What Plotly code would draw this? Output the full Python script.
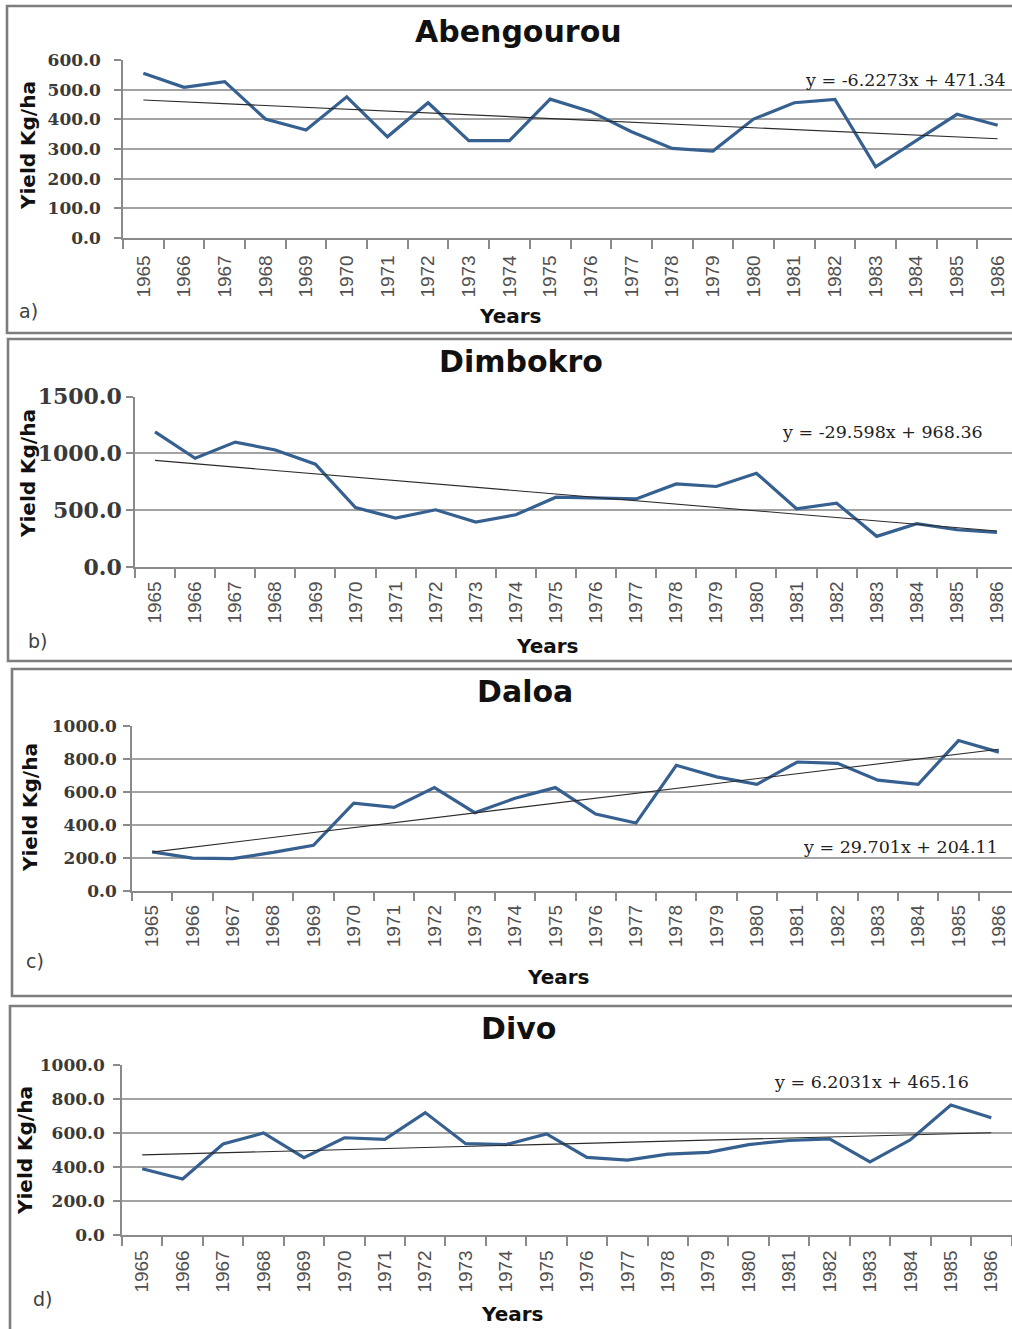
import plotly.graph_objects as go

# Figure size in pixels
W, H = 1012, 1329

years = ["1965", "1966", "1967", "1968", "1969", "1970", "1971", "1972", "1973", "1974", "1975",
         "1976", "1977", "1978", "1979", "1980", "1981", "1982", "1983", "1984", "1985", "1986"]

# Yields (Kg/ha) per station
abengourou = [555, 508, 527, 401, 364, 476, 341, 456, 328, 328, 468,
              426, 358, 302, 293, 401, 456, 467, 240, 328, 417, 380]
dimbokro = [1190, 958, 1100, 1031, 905, 524, 431, 504, 396, 460, 615,
            604, 600, 732, 709, 826, 513, 563, 270, 381, 328, 305]
daloa = [235, 197, 195, 232, 275, 530, 505, 625, 473, 560, 625,
         465, 410, 760, 690, 645, 780, 772, 670, 645, 910, 840]
divo = [390, 329, 535, 600, 455, 572, 563, 720, 537, 532, 595,
        457, 440, 476, 486, 532, 556, 566, 430, 560, 765, 690]

# Linear trend coefficients (y = slope * x + intercept, x = 1..22)
trend_slope = [-6.2273, -29.598, 29.701, 6.2031]
trend_intercept = [471.34, 968.36, 204.11, 465.16]

titles = ["Abengourou", "Dimbokro", "Daloa", "Divo"]
panel_tags = ["a)", "b)", "c)", "d)"]
equations = ["y = -6.2273x + 471.34", "y = -29.598x + 968.36",
             "y = 29.701x + 204.11", "y = 6.2031x + 465.16"]
y_max = [600, 1500, 1000, 1000]
y_step = [100, 500, 200, 200]

series = [abengourou, dimbokro, daloa, divo]

# Layout geometry of each panel (pixels from top-left)
panels = [
    dict(xl=123, xr=1018, yt=60, yb=238, box=(7, 6, 1016, 333), ytick=17, ystand=10, xstand=8,
         title=(518, 32), ytitle=(28, 146), years=(510, 316), tag=(28, 311), eq=(1008, 80)),
    dict(xl=135, xr=1017, yt=396.7, yb=567, box=(8, 339, 1016, 661), ytick=22, ystand=0, xstand=5,
         title=(521, 362), ytitle=(28, 474), years=(547, 646), tag=(37, 641), eq=(985, 432)),
    dict(xl=132, xr=1019, yt=725.7, yb=890.7, box=(12, 669, 1016, 996), ytick=17, ystand=3, xstand=5,
         title=(525, 691), ytitle=(30, 808), years=(558, 977), tag=(35, 961), eq=(1000, 847)),
    dict(xl=122, xr=1011.5, yt=1065, yb=1235, box=(10, 1006, 1016, 1334), ytick=17, ystand=5, xstand=6,
         title=(518, 1028), ytitle=(25, 1151), years=(512, 1314), tag=(42, 1299), eq=(971, 1082)),
]

BLUE = "#36608f"
GRID = "#a3a3a3"
AXIS = "#8a8a8a"


def px(x):
    return x / W


def py(y):
    return 1 - y / H


fig = go.Figure()
annotations = []
shapes = []

for i, p in enumerate(panels):
    n = "" if i == 0 else str(i + 1)
    xa, ya = "x" + n, "y" + n
    xr_vis = min(p["xr"], W)
    x_end = -0.5 + 22 * (xr_vis - p["xl"]) / (p["xr"] - p["xl"])

    fig.add_trace(go.Scatter(
        x=years, y=series[i], mode="lines", xaxis=xa, yaxis=ya,
        line=dict(color=BLUE, width=3.2), showlegend=False, cliponaxis=False))
    trend = [trend_slope[i] * (k + 1) + trend_intercept[i] for k in range(len(years))]
    fig.add_trace(go.Scatter(
        x=years, y=trend, mode="lines", xaxis=xa, yaxis=ya,
        line=dict(color="#2a2a2a", width=1.1), showlegend=False))

    fig.layout["xaxis" + n] = dict(
        domain=[px(p["xl"]), px(xr_vis)], anchor=ya, type="category", automargin=False,
        range=[-0.5, x_end], showgrid=False, showline=True, linecolor=AXIS, linewidth=1.5,
        ticks="outside", tickson="boundaries", ticklen=9, tickwidth=1.5, tickcolor=AXIS,
        tickangle=-90, ticklabelstandoff=p["xstand"],
        tickfont=dict(family="Liberation Sans", size=19, color="#505050"),
        zeroline=False, fixedrange=True)
    fig.layout["yaxis" + n] = dict(
        domain=[py(p["yb"]), py(p["yt"])], anchor=xa, automargin=False,
        range=[0, y_max[i]], dtick=y_step[i], tick0=0, tickformat=".1f",
        showgrid=True, gridcolor=GRID, gridwidth=1.5,
        showline=True, linecolor=AXIS, linewidth=1.5,
        ticks="outside", ticklen=7, tickwidth=1.5, tickcolor=AXIS,
        ticklabelstandoff=p["ystand"],
        tickfont=dict(family="DejaVu Serif", size=p["ytick"], color="#3a3a3a", weight="bold"),
        zeroline=False, fixedrange=True)

    # Panel frame
    bx0, by0, bx1, by1 = p["box"]
    shapes.append(dict(type="rect", xref="paper", yref="paper",
                       x0=px(bx0), x1=px(bx1), y0=py(by1), y1=py(by0),
                       line=dict(color="#7d7d7d", width=2.6), layer="below"))

    annotations.append(dict(
        text=titles[i], xref="paper", yref="paper", x=px(p["title"][0]), y=py(p["title"][1]),
        xanchor="center", yanchor="middle", showarrow=False,
        font=dict(family="DejaVu Sans", size=30, color="#111111", weight="bold")))
    annotations.append(dict(
        text="Yield Kg/ha", xref="paper", yref="paper", x=px(p["ytitle"][0]), y=py(p["ytitle"][1]),
        xanchor="center", yanchor="middle", textangle=-90, showarrow=False,
        font=dict(family="DejaVu Sans", size=20, color="#111111", weight="bold")))
    annotations.append(dict(
        text="Years", xref="paper", yref="paper", x=px(p["years"][0]), y=py(p["years"][1]),
        xanchor="center", yanchor="middle", showarrow=False,
        font=dict(family="DejaVu Sans", size=20, color="#111111", weight="bold")))
    annotations.append(dict(
        text=panel_tags[i], xref="paper", yref="paper", x=px(p["tag"][0]), y=py(p["tag"][1]),
        xanchor="center", yanchor="middle", showarrow=False,
        font=dict(family="DejaVu Sans", size=19, color="#404040")))
    annotations.append(dict(
        text=equations[i], xref="paper", yref="paper", x=px(p["eq"][0]), y=py(p["eq"][1]),
        xanchor="right", yanchor="middle", showarrow=False,
        font=dict(family="DejaVu Serif", size=17.5, color="#222222")))

fig.update_layout(
    width=W, height=H, margin=dict(l=0, r=0, t=0, b=0, pad=0, autoexpand=False),
    paper_bgcolor="white", plot_bgcolor="white",
    annotations=annotations, shapes=shapes, showlegend=False)

fig.write_html("out.html", config={"displayModeBar": False})
